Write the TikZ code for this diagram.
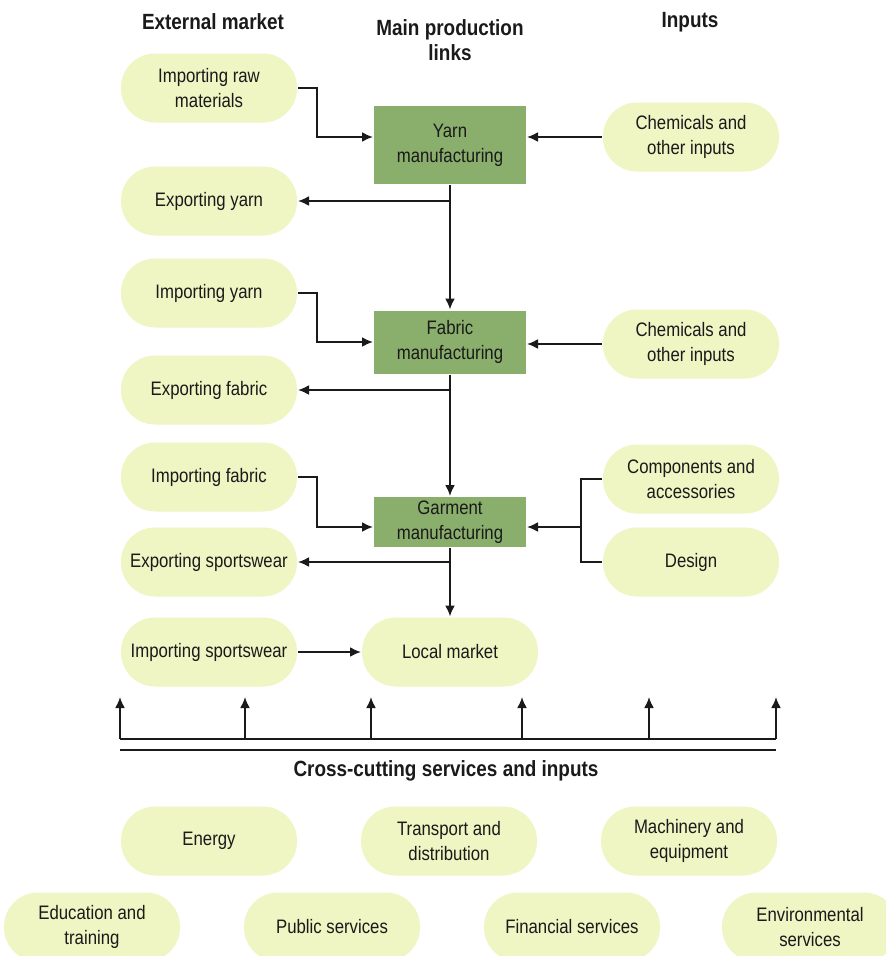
\documentclass[tikz,border=0pt]{standalone}
\usepackage{fontspec}
\setmainfont[FakeStretch=0.86]{Liberation Sans}
\usepackage{tikz}
\usetikzlibrary{arrows,arrows.meta,calc}
\def\pillwidth{176pt}
\def\pillheight{69pt}
\definecolor{pill}{HTML}{EFF5C3}
\definecolor{stagegreen}{HTML}{8AAE6B}
\definecolor{ink}{HTML}{1A1A1A}
\tikzset{
	every node/.style={
		font=\fontsize{19.5}{25}\selectfont,
		text=ink
	},
	market/.style={
		shape=rectangle,
		fill=pill,
		minimum width=\pillwidth,
		minimum height=\pillheight,
		rounded corners=34pt,
		align=center,
		inner sep=0pt
	},
	stage/.style={
		shape=rectangle,
		fill=stagegreen,
		minimum width=152pt,
		align=center,
		inner sep=0pt
	},
	heading/.style={
		font=\fontsize{22}{25}\selectfont\bfseries,
		align=center
	},
	myarrow/.style={-{Latex[length=11pt,width=10pt]}},
}

\begin{document}
\begin{tikzpicture}
	[x=1pt,y=-1pt,line width=2pt,draw=ink]
	\useasboundingbox (0,0) rectangle (886,956);
	
	\node[heading] (ext) at (213,22) {External market};
	\node[heading] (main) at (450,40) {Main production\\links};
	\node[heading] (inp) at (690,22) {Inputs};
	
	\node[market] (impraw) at (209,88) {Importing raw\\materials};
	\node[market] (expyarn) at (209,201) {Exporting yarn};
	\node[market] (impyarn) at (209,293) {Importing yarn};
	\node[market] (expfabric) at (209,390) {Exporting fabric};
	\node[market] (impfabric) at (209,477) {Importing fabric};
	\node[market] (expsport) at (209,562) {Exporting sportswear};
	\node[market] (impsport) at (209,652) {Importing sportswear};
	
	\node[stage, minimum height=78pt] (yarn) at (450,145) {Yarn\\manufacturing};
	\node[stage, minimum height=63pt] (fabric) at (450,342) {Fabric\\manufacturing};
	\node[stage, minimum height=50pt] (garment) at (450,522) {Garment\\manufacturing};
	\node[market] (local) at (450,652) {Local market};
	
	\node[market] (chema) at (691,137) {Chemicals and\\other inputs};
	\node[market] (chemb) at (691,344) {Chemicals and\\other inputs};
	\node[market] (comp) at (691,479) {Components and\\accessories};
	\node[market] (design) at (691,562) {Design};
	
	\draw[myarrow] (impraw.east) -- ++(19,0) |- (yarn.west |- chema);
	\draw[myarrow] (chema.west) -- (yarn.east |- chema);
	\draw[myarrow] (yarn.south) -- (fabric.north);
	\draw[myarrow] (yarn.south |- expyarn) -- (expyarn.east);
	
	\draw[myarrow] (impyarn.east) -- ++(19,0) |- (fabric.west);
	\draw[myarrow] (chemb.west) -- (fabric.east |- chemb);
	\draw[myarrow] (fabric.south) -- (garment.north);
	\draw[myarrow] (fabric.south |- expfabric) -- (expfabric.east);
	
	\coordinate (join) at ($(garment.east)+(54,5)$);
	\draw[myarrow] (impfabric.east) -- ++(19,0) |- ($(garment.west)+(0,5)$);
	\draw (comp.west) -| (join) |- (design.west);
	\draw[myarrow] (join) -- ($(garment.east)+(0,5)$);
	\draw[myarrow] (garment.south) -- (local.north);
	\draw[myarrow] (garment.south |- expsport) -- (expsport.east);
	\draw[myarrow] (impsport.east) -- (local.west);
	
	\coordinate (base-l) at (120,739);
	\coordinate (base-r) at (776,739);
	\draw (base-l) -- (base-r);
	\foreach \x [count=\i] in {120,245,371,522,649,776}{
		\coordinate (up-\i) at (\x,697);
		\draw[myarrow] (base-l -| up-\i) -- (up-\i);
	}
	\coordinate (rule-l) at (120,750);
	\coordinate (rule-r) at (776,750);
	\draw[line width=2.4pt] (rule-l) -- (rule-r);
	\node[heading] (cross) at (446,771) {Cross-cutting services and inputs};
	
	\node[market] (energy) at (209,841) {Energy};
	\node[market] (transport) at (449,841) {Transport and\\distribution};
	\node[market] (machinery) at (689,841) {Machinery and\\equipment};
	\node[market] (education) at (92,927) {Education and\\training};
	\node[market] (public) at (332,927) {Public services};
	\node[market] (financial) at (572,927) {Financial services};
	\node[market] (environ) at (810,927) {Environmental\\services};
\end{tikzpicture}
\end{document}
